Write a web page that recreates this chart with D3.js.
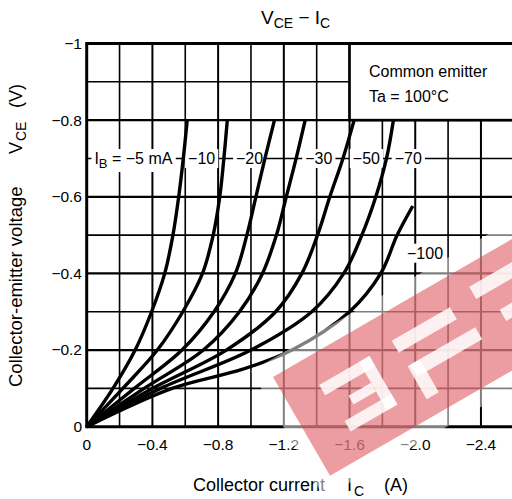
<!DOCTYPE html>
<html>
<head>
<meta charset="utf-8">
<script src="https://cdn.jsdelivr.net/npm/d3@7"></script>
<style>
	body { margin: 0; background: #fff; }
	svg { display: block; font-family: Arial, "Liberation Sans", sans-serif; }
</style>
</head>
<body>
<div id="vis"></div>
<script>

// collector-emitter voltage steps (V)
var vce = [0, -0.1, -0.2, -0.3, -0.4, -0.5, -0.6, -0.7, -0.8];

// collector current (A) read at each vce step, one array per base current
var ib5   = [0, -0.16, -0.295, -0.395, -0.475, -0.525, -0.56, -0.588, -0.612];
var ib10  = [0, -0.22, -0.43, -0.585, -0.705, -0.77, -0.81, -0.835, -0.856];
var ib20  = [0, -0.29, -0.58, -0.775, -0.905, -0.975, -1.03, -1.085, -1.143];
var ib30  = [0, -0.35, -0.71, -0.93, -1.07, -1.155, -1.215, -1.275, -1.33];
var ib50  = [0, -0.40, -0.85, -1.15, -1.31, -1.405, -1.48, -1.56, -1.628];
var ib70  = [0, -0.45, -1.00, -1.37, -1.565, -1.675, -1.76, -1.825, -1.867];
var vce100 = [0, -0.1, -0.15, -0.2, -0.3, -0.4, -0.5, -0.576];
var ib100 = [0, -0.52, -0.95, -1.25, -1.60, -1.79, -1.89, -1.985];

var ibLabels = ["\u22125 mA", "\u221210", "\u221220", "\u221230", "\u221250", "\u221270", "\u2212100"];

var xTicks = [0, -0.4, -0.8, -1.2, -1.6, -2.0, -2.4];
var xTickLabels = ["0", "\u22120.4", "\u22120.8", "\u22121.2", "\u22121.6", "\u22122.0", "\u22122.4"];
var yTicks = [0, -0.2, -0.4, -0.6, -0.8, -1];
var yTickLabels = ["0", "\u22120.2", "\u22120.4", "\u22120.6", "\u22120.8", "\u22121"];

function drawChart() {

	var width = 512, height = 499;

	var svg = d3.select("#vis").append("svg")
		.attr("width", width)
		.attr("height", height);

	var xScale = d3.scaleLinear().domain([0, -2.6]).range([86.7, 513.8]);
	var yScale = d3.scaleLinear().domain([0, -1]).range([426.7, 43.5]);

	// grid
	var grid = svg.append("g");
	d3.range(1, 13).forEach(function(i) {
		var v = -0.2 * i;
		grid.append("line")
			.attr("x1", xScale(v)).attr("x2", xScale(v))
			.attr("y1", yScale(0)).attr("y2", yScale(-1))
			.attr("stroke", "#000")
			.attr("stroke-width", i % 2 == 0 ? 2 : 1.6);
	});
	d3.range(1, 10).forEach(function(i) {
		var v = -0.1 * i;
		grid.append("line")
			.attr("x1", xScale(0)).attr("x2", xScale(-2.6))
			.attr("y1", yScale(v)).attr("y2", yScale(v))
			.attr("stroke", "#000")
			.attr("stroke-width", i % 2 == 0 ? 2.2 : 1.6);
	});

	// legend box
	svg.append("rect")
		.attr("x", xScale(-1.6)).attr("y", yScale(-1))
		.attr("width", width - xScale(-1.6) + 10)
		.attr("height", yScale(-0.8) - yScale(-1))
		.attr("fill", "#fff")
		.attr("stroke", "#000")
		.attr("stroke-width", 2.6);
	svg.append("text")
		.attr("x", 369).attr("y", 76.5)
		.attr("font-size", 16)
		.text("Common emitter");
	svg.append("text")
		.attr("x", 369).attr("y", 101.5)
		.attr("font-size", 16)
		.text("Ta = 100\u00B0C");

	// curve labels with white backing
	var labelAt = [[-0.047, -0.7], [-0.617, -0.7], [-0.909, -0.7], [-1.33, -0.7], [-1.62, -0.7], [-1.875, -0.7], [-1.95, -0.453]];
	var labels = svg.append("g");
	labelAt.forEach(function(p, i) {
		var t = labels.append("text")
			.attr("x", xScale(p[0]))
			.attr("y", yScale(p[1]))
			.attr("dy", "0.35em")
			.attr("font-size", 16);
		if (i == 0) {
			t.append("tspan").text("I");
			t.append("tspan").attr("font-size", 13).attr("dy", 4).text("B");
			t.append("tspan").attr("dy", -4).text(" = " + ibLabels[i]);
		} else {
			t.text(ibLabels[i]);
		}
		var b = t.node().getBBox();
		labels.insert("rect", "text")
			.attr("x", b.x - 3).attr("y", b.y - 1)
			.attr("width", b.width + 6).attr("height", b.height + 2)
			.attr("fill", "#fff");
	});

	// curves
	var line = d3.line()
		.x(function(d) { return xScale(d[0]); })
		.y(function(d) { return yScale(d[1]); })
		.curve(d3.curveCatmullRom.alpha(0.5));

	var series = [ib5, ib10, ib20, ib30, ib50, ib70];
	series.forEach(function(s) {
		svg.append("path")
			.attr("d", line(s.map(function(c, i) { return [c, vce[i]]; })))
			.attr("fill", "none")
			.attr("stroke", "#000")
			.attr("stroke-width", 3.4);
	});
	svg.append("path")
		.attr("d", line(ib100.map(function(c, i) { return [c, vce100[i]]; })))
		.attr("fill", "none")
		.attr("stroke", "#000")
		.attr("stroke-width", 3.4);

	// frame
	svg.append("path")
		.attr("d", "M" + xScale(-2.6) + "," + yScale(-1) + "H" + xScale(0) + "V" + yScale(0) + "H" + xScale(-2.6))
		.attr("fill", "none")
		.attr("stroke", "#000")
		.attr("stroke-width", 3);

	// tick labels
	svg.selectAll(".xtick")
		.data(xTicks)
		.enter().append("text")
		.attr("class", "xtick")
		.attr("x", function(d) { return xScale(d); })
		.attr("y", 450)
		.attr("text-anchor", "middle")
		.attr("font-size", 15.5)
		.text(function(d, i) { return xTickLabels[i]; });

	svg.selectAll(".ytick")
		.data(yTicks)
		.enter().append("text")
		.attr("class", "ytick")
		.attr("x", 82)
		.attr("y", function(d) { return yScale(d); })
		.attr("dy", "0.35em")
		.attr("text-anchor", "end")
		.attr("font-size", 15.5)
		.text(function(d, i) { return yTickLabels[i]; });

	// title
	var title = svg.append("text")
		.attr("x", 261).attr("y", 24)
		.attr("font-size", 19);
	title.append("tspan").text("V");
	title.append("tspan").attr("font-size", 14).attr("dy", 4).text("CE");
	title.append("tspan").attr("dy", -4).text(" \u2212 I");
	title.append("tspan").attr("font-size", 14).attr("dy", 4).text("C");

	// x axis title
	svg.append("text").attr("x", 193).attr("y", 491).attr("font-size", 18).text("Collector current");
	svg.append("text").attr("x", 347).attr("y", 491).attr("font-size", 18).text("I");
	svg.append("text").attr("x", 354).attr("y", 496).attr("font-size", 14).text("C");
	svg.append("text").attr("x", 384).attr("y", 491).attr("font-size", 18).text("(A)");

	// y axis title
	var yt = svg.append("g").attr("transform", "translate(22,0) rotate(-90)");
	yt.append("text").attr("x", -387).attr("y", 0).attr("font-size", 18.5).text("Collector-emitter voltage");
	yt.append("text").attr("x", -154).attr("y", 0).attr("font-size", 18).text("V");
	yt.append("text").attr("x", -141).attr("y", 4).attr("font-size", 14).text("CE");
	yt.append("text").attr("x", -108).attr("y", 0).attr("font-size", 18).text("(V)");

	// watermark
	var wm = svg.append("g").attr("transform", "translate(273,377) rotate(-30)");
	wm.append("rect")
		.attr("x", -16).attr("y", -16).attr("width", 450).attr("height", 146)
		.attr("fill", "#fff").attr("opacity", 0.5);
	wm.append("rect")
		.attr("x", 0).attr("y", 0).attr("width", 420).attr("height", 114)
		.attr("fill", "rgb(215,60,70)").attr("opacity", 0.5);
	var holes = [
		[36, 30, 58, 12], [82, 30, 12, 56], [40, 74, 54, 12], [56, 54, 26, 10],
		[121, 28, 67, 14], [125, 58, 75, 14], [122, 58, 14, 38],
		[215, 20, 65, 14], [230, 55, 70, 13]
	];
	wm.selectAll(".hole")
		.data(holes)
		.enter().append("rect")
		.attr("class", "hole")
		.attr("x", function(d) { return d[0]; })
		.attr("y", function(d) { return d[1]; })
		.attr("width", function(d) { return d[2]; })
		.attr("height", function(d) { return d[3]; })
		.attr("fill", "#fff")
		.attr("opacity", 0.85);
}

drawChart();

</script>
</body>
</html>
